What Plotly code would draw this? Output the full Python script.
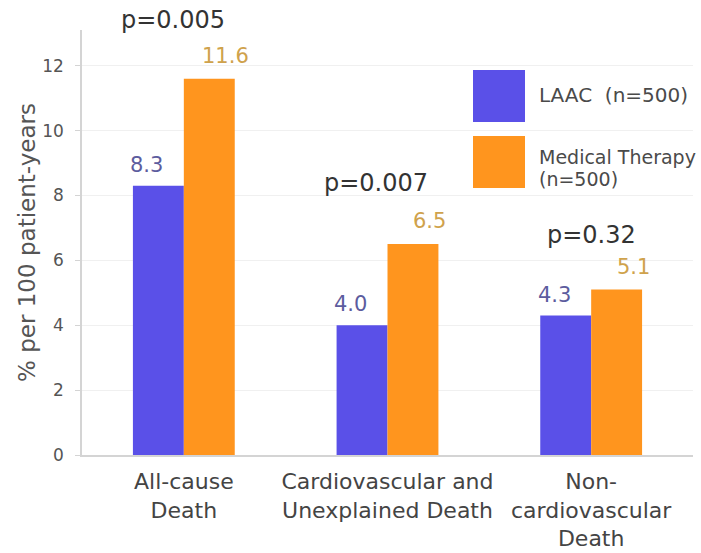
import plotly.graph_objects as go

# Outcome categories and event rates (% per 100 patient-years)
categories = ["All-cause<br>Death",
              "Cardiovascular and<br>Unexplained Death",
              "Non-<br>cardiovascular<br>Death"]
laac_rates = [8.3, 4.0, 4.3]
medical_rates = [11.6, 6.5, 5.1]
p_values = ["p=0.005", "p=0.007", "p=0.32"]
y_ticks = [0, 2, 4, 6, 8, 10, 12]

FONT = "DejaVu Sans"
BLUE = "#5a50e8"
ORANGE = "#ff951e"
BLUE_TXT = "#5c5c9e"
ORANGE_TXT = "#cfa24c"

W, H = 701, 553
L, R, T, B = 82, 8, 30, 98
pw, ph = W - L - R, H - T - B


def px_x(x):
    return (x - L) / pw


def px_y(y):
    return (H - B - y) / ph


fig = go.Figure()
fig.add_trace(go.Bar(name="LAAC (n=500)", x=categories, y=laac_rates,
                     marker=dict(color=BLUE, line=dict(width=0))))
fig.add_trace(go.Bar(name="Medical Therapy (n=500)", x=categories, y=medical_rates,
                     marker=dict(color=ORANGE, line=dict(width=0))))

annotations = []
# value labels above each bar, spread outwards from the pair
for cat, v in zip(categories, laac_rates):
    annotations.append(dict(x=cat, y=v, xref="x", yref="y", text=f"{v:.1f}",
                            showarrow=False, xshift=-37, yshift=21, yanchor="middle",
                            font=dict(family=FONT, size=21, color=BLUE_TXT)))
for cat, v in zip(categories, medical_rates):
    annotations.append(dict(x=cat, y=v, xref="x", yref="y", text=f"{v:.1f}",
                            showarrow=False, xshift=42, yshift=23, yanchor="middle",
                            font=dict(family=FONT, size=21, color=ORANGE_TXT)))

# significance labels (pixel heights of their centres)
p_pos = [(-11, 20), (-12, 183), (0, 235)]
for cat, p, (dx, ypx) in zip(categories, p_values, p_pos):
    annotations.append(dict(x=cat, y=px_y(ypx), xref="x", yref="paper", text=p,
                            showarrow=False, xshift=dx, yanchor="middle",
                            font=dict(family=FONT, size=24, color="#333333")))

# custom legend with large colour swatches
legend_rows = [("LAAC  (n=500)", 95, 20),
               ("Medical Therapy", 157, 19),
               ("(n=500)", 179, 19)]
for text, ypx, size in legend_rows:
    annotations.append(dict(x=px_x(537), y=px_y(ypx), xref="paper", yref="paper",
                            text=text, showarrow=False, xanchor="left",
                            yanchor="middle",
                            font=dict(family=FONT, size=size, color="#4a4a4a")))

shapes = [
    dict(type="rect", xref="paper", yref="paper", x0=px_x(473), x1=px_x(525),
         y0=px_y(122), y1=px_y(70), fillcolor=BLUE, line=dict(width=0)),
    dict(type="rect", xref="paper", yref="paper", x0=px_x(473), x1=px_x(525),
         y0=px_y(188), y1=px_y(136), fillcolor=ORANGE, line=dict(width=0)),
]

fig.update_layout(
    width=W, height=H,
    margin=dict(l=L, r=R, t=T, b=B, pad=0, autoexpand=False),
    paper_bgcolor="white", plot_bgcolor="white",
    barmode="group", bargap=0.5, bargroupgap=0,
    showlegend=False,
    font=dict(family=FONT, color="#444444"),
    annotations=annotations,
    shapes=shapes,
    xaxis=dict(showline=True, linecolor="#d4d4d4", linewidth=1.5,
               ticks="", tickfont=dict(size=22, color="#444444"),
               ticklabelstandoff=6, automargin=False,
               showgrid=False, range=[-0.5, 2.5]),
    yaxis=dict(range=[0, 13.1], tickvals=y_ticks, showline=True,
               linecolor="#d4d4d4", linewidth=1.5, ticks="outside",
               ticklen=5, tickcolor="#d4d4d4", ticklabelstandoff=8,
               tickfont=dict(size=17, color="#555555"),
               showgrid=True, gridcolor="#f0f0f0", gridwidth=1,
               zeroline=False, automargin=True,
               title=dict(text="% per 100 patient-years",
                          font=dict(size=23, color="#555555"), standoff=0)),
)

fig.write_html("out.html")
